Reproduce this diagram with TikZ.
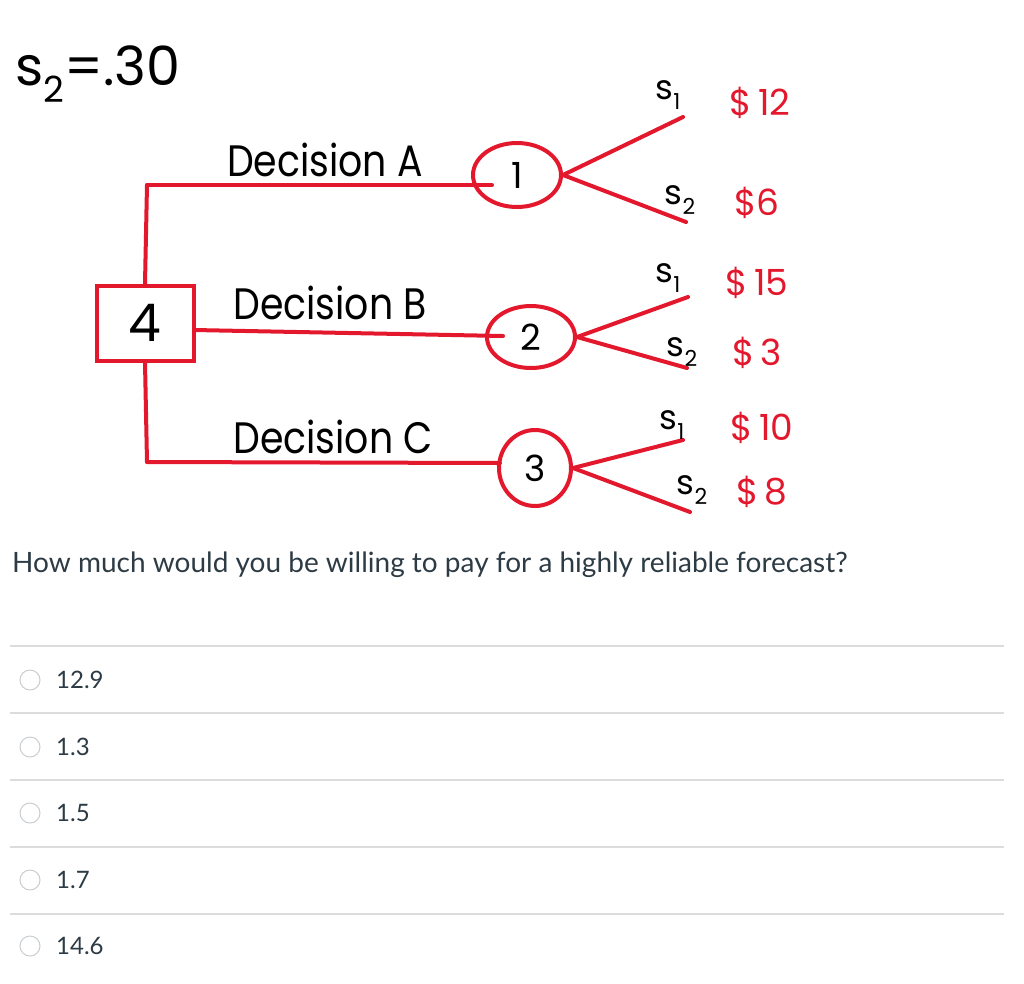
\documentclass[tikz,border=0pt]{standalone}
\usepackage{fontspec}
\usepackage{graphicx}
\setmainfont{Lato}
\newfontfamily\handfont{Poppins}
\usetikzlibrary{shapes.geometric}
\definecolor{hred}{HTML}{E3182D}
\definecolor{qtext}{HTML}{2D3B45}
\definecolor{sepgray}{HTML}{DCDCDC}
\definecolor{radiogray}{HTML}{C7CDD1}
\newcommand\sublab[1]{s\raisebox{-0.3em}{\fontsize{22}{22}\selectfont #1}}
\newcommand\narrow[2]{\scalebox{#1}[1]{#2}}
\begin{document}
\begin{tikzpicture}[x=1pt,y=-1pt,
  redline/.style={draw=hred,line width=4pt,line cap=round,line join=round},
  money/.style={inner sep=0pt,text=hred,font=\handfont\fontsize{36}{38}\selectfont},
  slab/.style={inner sep=0pt,text=black,font=\handfont\fontsize{34}{36}\selectfont},
  declab/.style={inner sep=0pt,text=black,font=\handfont\fontsize{44}{46}\selectfont},
  chance/.style={ellipse,draw=hred,line width=4pt,inner sep=0pt,font=\handfont\fontsize{36}{38}\selectfont},
  sep/.style={draw=sepgray,line width=1.2pt},
  radio/.style={circle,draw=radiogray,line width=1pt,minimum size=20pt,inner sep=0pt},
  answer/.style={anchor=west,inner sep=0pt,text=qtext,font=\fontsize{24}{26}\selectfont}]

\useasboundingbox (0,0) rectangle (1024,983);

% probability note
\node[inner sep=0pt,font=\handfont\fontsize{54}{56}\selectfont] (prob) at (98,74) {s\raisebox{-0.3em}{\fontsize{36}{36}\selectfont 2}=.30};

% decision box
\node[draw=hred,line width=4pt,minimum width=97pt,minimum height=75pt,inner sep=0pt,
      font=\handfont\fontsize{52}{52}\selectfont] (box) at (145,323) {4};

% chance nodes
\node[chance,minimum width=88pt,minimum height=64pt] (c1) at (517,175) {1};
\node[chance,minimum width=88pt,minimum height=62pt] (c2) at (531,337) {2};
\node[chance,minimum width=72pt,minimum height=76pt] (c3) at (535,468) {3};

% coordinates
\coordinate (aS) at (147,185);
\coordinate (aE) at (492,185);
\coordinate (bS) at (194,330);
\coordinate (bE) at (503,336);
\coordinate (cS) at (147,462);
\coordinate (cE) at (500,463);
\coordinate (a1) at (683,117);
\coordinate (a2) at (686,222);
\coordinate (b1) at (688,297);
\coordinate (b2) at (687,368);
\coordinate (d1) at (683,440);
\coordinate (d2) at (690,512);

% tree lines
\draw[redline] (aS) -- (box.north);
\draw[redline] (box.south) -- (cS);
\draw[redline] (aS) -- (aE);
\draw[redline] (bS) -- (bE);
\draw[redline] (cS) -- (cE);
\draw[redline] (c1.east) -- (a1);
\draw[redline] (c1.east) -- (a2);
\draw[redline] (c2.east) -- (b1);
\draw[redline] (c2.east) -- (b2);
\draw[redline] (c3.east) -- (d1);
\draw[redline] (c3.east) -- (d2);

% decision labels
\node[declab] (la) at (325,160) {\narrow{0.86}{Decision A}};
\node[declab] (lb) at (330,303) {\narrow{0.86}{Decision B}};
\node[declab] (lc) at (333,437) {\narrow{0.86}{Decision C}};

% state labels and payoffs
\node[slab] (s1a) at (668,95) {\sublab{1}};
\node[money] (p1a) at (760,103) {\$\,12};
\node[slab] (s2a) at (680,200) {\sublab{2}};
\node[money] (p2a) at (757,203) {\$6};
\node[slab] (s1b) at (668,278) {\sublab{1}};
\node[money] (p1b) at (757,283) {\$\,15};
\node[slab] (s2b) at (682,352) {\sublab{2}};
\node[money] (p2b) at (757,353) {\$\,3};
\node[slab] (s1c) at (672,425) {\sublab{1}};
\node[money] (p1c) at (762,428) {\$\,10};
\node[slab] (s2c) at (692,490) {\sublab{2}};
\node[money] (p2c) at (762,492) {\$\,8};

% question
\node[anchor=base west,inner sep=0pt,text=qtext,font=\fontsize{28}{30}\selectfont] (q) at (12,572)
  {How much would you be willing to pay for a highly reliable forecast?};

% separators
\foreach \y/\n in {646/1,713/2,780/3,847/4,914/5}{
  \coordinate (sl\n) at (10,\y);
  \coordinate (sr\n) at (1004,\y);
  \draw[sep] (sl\n) -- (sr\n);
}

% answers
\node[radio] (r1) at (30,680) {};
\node[answer] (t1) at (56,680) {12.9};
\node[radio] (r2) at (30,747) {};
\node[answer] (t2) at (56,747) {1.3};
\node[radio] (r3) at (30,813) {};
\node[answer] (t3) at (56,813) {1.5};
\node[radio] (r4) at (30,880) {};
\node[answer] (t4) at (56,880) {1.7};
\node[radio] (r5) at (30,946) {};
\node[answer] (t5) at (56,946) {14.6};
\end{tikzpicture}
\end{document}
